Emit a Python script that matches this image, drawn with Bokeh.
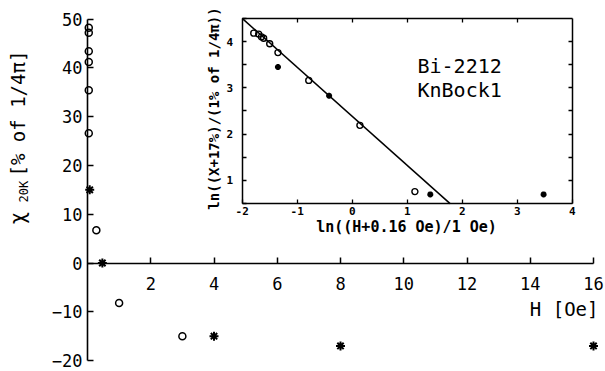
import math
from bokeh.plotting import figure
from bokeh.models import LinearAxis, FixedTicker, Range1d, Label
from bokeh.embed import file_html
from bokeh.resources import INLINE

# ---------------- data ----------------
# main plot: H [Oe] vs chi_20K [% of 1/4pi]
main_circle_H = [0.04, 0.04, 0.04, 0.04, 0.04, 0.04, 0.28, 1.0, 3.0]
main_circle_chi = [48.2, 47.2, 43.4, 41.2, 35.4, 26.6, 6.7, -8.2, -15.0]
main_star_H = [0.07, 0.47, 4.0, 8.0, 16.0]
main_star_chi = [15.0, 0.0, -15.0, -17.0, -17.0]
main_x_ticks = [2, 4, 6, 8, 10, 12, 14, 16]
main_y_ticks = [-20, -10, 0, 10, 20, 30, 40, 50]

# inset: ln((H+0.16 Oe)/1 Oe) vs ln((X+17%)/(1% of 1/4pi))
inset_circle_u = [-1.79, -1.70, -1.65, -1.61, -1.50, -1.35, -0.79, 0.14, 1.14]
inset_circle_v = [4.18, 4.16, 4.10, 4.07, 3.95, 3.76, 3.16, 2.19, 0.76]
inset_star_u = [-1.35, -0.42, 1.42, 3.48]
inset_star_v = [3.45, 2.83, 0.70, 0.70]
fit_u = [-2.0, 1.78]
fit_v = [4.5, 0.5]
inset_x_ticks = [-2, -1, 0, 1, 2, 3, 4]
inset_y_ticks = [1, 2, 3, 4]
inset_y_minor = [0.5, 1.5, 2.5, 3.5, 4.5]
inset_right_ticks = [1.0, 1.5, 2.0, 2.5, 3.0, 3.5, 4.0]

# ---------------- geometry (page pixels) ----------------
W, H = 605, 371
LEFT, TOP = 0, 0
X0, XS = 87.0, 31.625      # page x of H=0, px per Oe
Y0, YS = 262.5, 4.88       # page y of chi=0, px per unit
U0, US = 241.7, 55.0       # page x of u=-2, px per unit
V0, VS = 41.0, 46.33       # page y of v=4, px per unit


def hx(px):
    return (px - X0) / XS


def hy(py):
    return (Y0 - py) / YS


def ux(px):
    return -2 + (px - U0) / US


def vy(py):
    return 4 - (py - V0) / VS


p = figure(width=W, height=H,
           x_range=Range1d(hx(LEFT), hx(LEFT + W)),
           y_range=Range1d(hy(TOP + H), hy(TOP)),
           x_axis_type=None, y_axis_type=None,
           output_backend="svg", toolbar_location=None,
           min_border=0, outline_line_color=None)
p.extra_x_ranges = {"iu": Range1d(ux(LEFT), ux(LEFT + W))}
p.extra_y_ranges = {"iv": Range1d(vy(TOP + H), vy(TOP))}

MONO = "DejaVu Sans Mono"
INK = "black"

# ---------------- main axes ----------------
xax = LinearAxis(fixed_location=0, bounds=(0, 16),
                 ticker=FixedTicker(ticks=main_x_ticks))
yax = LinearAxis(fixed_location=0, bounds=(-20, 50),
                 ticker=FixedTicker(ticks=main_y_ticks))
for ax in (xax, yax):
    ax.axis_line_width = 1.6
    ax.axis_line_color = INK
    ax.major_tick_in = 6
    ax.major_tick_out = 0
    ax.major_tick_line_width = 1.5
    ax.major_tick_line_color = INK
    ax.minor_tick_line_color = None
    ax.major_label_text_font = MONO
    ax.major_label_text_font_size = "17px"
    ax.major_label_text_color = INK
xax.major_label_standoff = 14
yax.major_label_standoff = 5
p.add_layout(xax, "below")
p.add_layout(yax, "left")

p.scatter(main_circle_H, main_circle_chi, marker="circle", size=7,
          fill_color=None, line_color=INK, line_width=1.5)
p.scatter(main_star_H, main_star_chi, marker="asterisk", size=9,
          line_color=INK, line_width=2)

# main axis labels
p.add_layout(Label(x=hx(598), y=hy(308), text="H [Oe]", text_font=MONO,
                   text_font_size="19px", text_align="right",
                   text_baseline="middle", text_color=INK))
p.add_layout(Label(x=hx(17), y=hy(224), text="\u03c7", text_font=MONO,
                   text_font_size="21px", text_align="left", text_color=INK,
                   text_baseline="middle", angle=math.pi / 2))
p.add_layout(Label(x=hx(23), y=hy(202), text="20K", text_font=MONO,
                   text_font_size="12px", text_align="left", text_color=INK,
                   text_baseline="middle", angle=math.pi / 2))
p.add_layout(Label(x=hx(17), y=hy(176), text="[% of 1/4\u03c0]", text_font=MONO,
                   text_font_size="19px", text_align="left", text_color=INK,
                   text_baseline="middle", angle=math.pi / 2))

# ---------------- inset ----------------
def inset_axis(loc, bounds, ticks, minor):
    ax = LinearAxis(x_range_name="iu", y_range_name="iv", fixed_location=loc,
                    bounds=bounds, ticker=FixedTicker(ticks=ticks, minor_ticks=minor))
    ax.axis_line_width = 1.5
    ax.axis_line_color = INK
    ax.major_tick_in = 4
    ax.major_tick_out = 0
    ax.minor_tick_in = 4
    ax.minor_tick_out = 0
    ax.major_tick_line_width = 1.3
    ax.minor_tick_line_width = 1.3
    ax.major_tick_line_color = INK
    ax.minor_tick_line_color = INK
    ax.major_label_text_font = MONO
    ax.major_label_text_font_style = "bold"
    ax.major_label_text_font_size = "11px"
    ax.major_label_text_color = INK
    return ax

ib = inset_axis(0.5, (-2, 4), inset_x_ticks, [])
ib.major_label_standoff = 3
ib.major_label_overrides = {t: str(t) for t in inset_x_ticks}
it = inset_axis(4.5, (-2, 4), [], [-1, 0, 1, 2, 3])
il = inset_axis(-2, (0.5, 4.5), inset_y_ticks, inset_y_minor)
il.major_label_standoff = 9
ir = inset_axis(4, (0.5, 4.5), [], inset_right_ticks)
p.add_layout(ib, "below")
p.add_layout(it, "above")
p.add_layout(il, "left")
p.add_layout(ir, "right")

p.line(fit_u, fit_v, x_range_name="iu", y_range_name="iv",
       line_color=INK, line_width=1.5)
p.scatter(inset_circle_u, inset_circle_v, x_range_name="iu", y_range_name="iv",
          marker="circle", size=6, fill_color=None, line_color=INK, line_width=1.4)
p.scatter(inset_star_u, inset_star_v, x_range_name="iu", y_range_name="iv",
          marker="asterisk", size=6, line_color=INK, line_width=2)

p.add_layout(Label(x=ux(406), y=vy(226), x_range_name="iu", y_range_name="iv",
                   text="ln((H+0.16 Oe)/1 Oe)", text_font=MONO, text_font_style="bold",
                   text_font_size="15px", text_align="center", text_baseline="middle",
                   text_color=INK))
p.add_layout(Label(x=ux(213), y=vy(108), x_range_name="iu", y_range_name="iv",
                   text="ln((X+17%)/(1% of 1/4\u03c0))", text_font=MONO,
                   text_font_style="bold", text_font_size="14px", text_color=INK,
                   text_align="center", text_baseline="middle", angle=math.pi / 2))
p.add_layout(Label(x=ux(417), y=vy(65), x_range_name="iu", y_range_name="iv",
                   text="Bi-2212", text_font=MONO, text_font_size="20px",
                   text_align="left", text_baseline="middle", text_color=INK))
p.add_layout(Label(x=ux(417), y=vy(89), x_range_name="iu", y_range_name="iv",
                   text="KnBock1", text_font=MONO, text_font_size="20px",
                   text_align="left", text_baseline="middle", text_color=INK))

open("out.html", "w").write(file_html(p, INLINE))
